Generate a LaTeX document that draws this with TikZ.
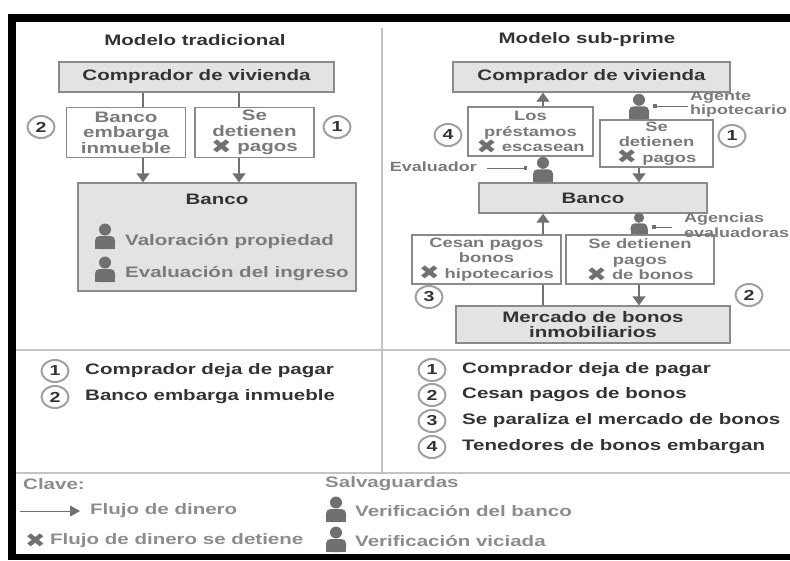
\documentclass[tikz,border=0pt]{standalone}
\usepackage{fontspec}
\usepackage{graphicx}
\setmainfont{Liberation Sans}[FakeStretch=1.35]
\newfontfamily\crossfont{DejaVu Sans}
\usetikzlibrary{arrows.meta,shapes.geometric}
\definecolor{boxfill}{HTML}{E3E3E3}
\definecolor{boxline}{HTML}{8A8A8A}
\definecolor{darktext}{HTML}{333333}
\definecolor{greytext}{HTML}{7A7A7A}
\definecolor{keytext}{HTML}{8C8C8C}
\definecolor{iconcol}{HTML}{707070}
\definecolor{rulecol}{HTML}{C4C4C4}
\definecolor{ringcol}{HTML}{A0A0A0}
\newcommand\diagfont{\fontsize{15.2}{15.5}\selectfont\bfseries}
\newcommand\boxfont{\fontsize{13.6}{15.5}\selectfont\bfseries}
\newcommand\sidefont{\fontsize{13.3}{14.5}\selectfont\bfseries}
\newcommand\numfont{\fontsize{14.5}{14.5}\selectfont\bfseries}
\newcommand\nox{\smash{\raisebox{-1.5pt}{\color{iconcol}\scalebox{1.75}[1.4]{\crossfont\fontsize{14}{14}\selectfont ✖}}}}

\begin{document}
\begin{tikzpicture}[
  x=1pt, y=-1pt,
  every node/.style={font=\diagfont, inner sep=0pt},
  greybox/.style={draw=boxline, fill=boxfill, line width=1.4pt, text=darktext},
  whitebox/.style={draw=boxline, fill=white, line width=1.4pt, text=greytext, align=center},
  smallbox/.style={whitebox, font=\boxfont},
  num/.style={ellipse, draw=ringcol, line width=2pt, fill=white, minimum width=27pt, minimum height=22pt, text=darktext, font=\numfont},
  flow/.style={draw=iconcol, line width=1.4pt},
  flowto/.style={flow, -{Triangle[width=13pt,length=9pt]}},
  tag/.style={draw=iconcol, line width=1pt, {Square[width=3.5pt,length=3.5pt]}-},
  person/.pic={
    \fill (0,-19.5) circle (6);
    \fill[rounded corners=4.5] (-10,0) -- (-10,-13) -- (10,-13) -- (10,0) -- cycle;
    \fill (-10,0) rectangle (10,-6);
  }
]
\useasboundingbox (0,0) rectangle (790,560);
\fill (8,14) rectangle (790,22);
\fill (8,14) rectangle (16,560);
\fill (8,554) rectangle (790,560);
\draw[rulecol, line width=1.5pt] (16,350) -- (790,350) (16,473) -- (790,473) (382,28) -- (382,473);

% modelo tradicional
\node[text=darktext] (ltitle) at (195,40) {Modelo tradicional};
\node[greybox, minimum width=275pt, minimum height=30pt] (lcomp) at (196.5,77) {Comprador de vivienda};
\node[whitebox, minimum width=119pt, minimum height=50pt] (lbox2) at (126,132.5) {Banco\\embarga\\inmueble};
\node[whitebox, minimum width=119pt, minimum height=50pt] (lbox1) at (254.5,132.5) {Se\\detienen\\\nox\ pagos};
\node[greybox, minimum width=278pt, minimum height=108pt] (lbank) at (217,237) {};
\node[text=darktext] (lbanktxt) at (217,199) {Banco};
\pic[iconcol] at (105,249) {person};
\node[text=greytext, anchor=west] (lval) at (125,241) {Valoración propiedad};
\pic[iconcol] at (105,282) {person};
\node[text=greytext, anchor=west] (leva) at (125,274) {Evaluación del ingreso};
\coordinate (la) at (143,0);
\coordinate (lb) at (239,0);
\draw[flow] (lcomp.south -| la) -- (lbox2.north -| la);
\draw[flowto] (lbox2.south -| la) -- (lbank.north -| la);
\draw[flow] (lcomp.south -| lb) -- (lbox1.north -| lb);
\draw[flowto] (lbox1.south -| lb) -- (lbank.north -| lb);
\node[num] (lc2) at (41,127) {2};
\node[num] (lc1) at (337,127) {1};

% modelo sub-prime
\node[text=darktext] (rtitle) at (587,40) {Modelo sub-prime};
\node[greybox, minimum width=277pt, minimum height=30pt] (rcomp) at (591.5,77) {Comprador de vivienda};
\node[smallbox, minimum width=125pt, minimum height=49pt] (rbox4) at (530.5,131.5) {Los\\préstamos\\\nox\ escasean};
\node[smallbox, minimum width=113pt, minimum height=47pt] (rbox1) at (656.5,143.5) {Se\\detienen\\\nox\ pagos};
\node[greybox, minimum width=228pt, minimum height=30pt] (rbank) at (593,198) {Banco};
\node[smallbox, minimum width=149pt, minimum height=49pt] (rbox3) at (486.5,259.5) {Cesan pagos\\bonos\\\nox\ hipotecarios};
\node[smallbox, minimum width=148pt, minimum height=49pt] (rbox2) at (640,259.5) {Se detienen\\pagos\\\nox\ de bonos};
\node[greybox, minimum width=274pt, minimum height=37pt, align=center] (rmerc) at (593,324.5) {Mercado de bonos\\inmobiliarios};
\coordinate (ra) at (543,0);
\coordinate (rb) at (639,0);
\draw[flowto] (rbox4.north -| ra) -- (rcomp.south -| ra);
\draw[flowto] (rbox1.south -| rb) -- (rbank.north -| rb);
\draw[flowto] (rbox3.north -| ra) -- (rbank.south -| ra);
\draw[flow] (rmerc.north -| ra) -- (rbox3.south -| ra);
\draw[flowto] (rbox2.south -| rb) -- (rmerc.north -| rb);
\pic[iconcol] at (rbox1.north -| rb) {person};
\pic[iconcol] at (rbank.north -| ra) {person};
\pic[iconcol, scale=0.85] at (rbox2.north -| rb) {person};
\node[text=greytext, anchor=west, align=left, font=\sidefont] (lagent) at (690,104.5) {Agente\\hipotecario};
\coordinate (agentdot) at (653,106);
\draw[tag, shorten >=2pt] (agentdot) -- (agentdot -| lagent.west);
\node[text=greytext, anchor=east, font=\sidefont] (leval) at (477,167) {Evaluador};
\coordinate (evaldot) at (527,168);
\draw[tag, shorten >=10pt] (evaldot) -- (evaldot -| leval.east);
\node[text=greytext, anchor=west, align=left, font=\sidefont] (lagency) at (684,225) {Agencias\\evaluadoras};
\coordinate (agencydot) at (652,227);
\draw[tag, shorten >=12pt] (agencydot) -- (agencydot -| lagency.west);
\node[num] (rc4) at (448,135) {4};
\node[num] (rc1) at (732,136) {1};
\node[num] (rc3) at (429,297) {3};
\node[num] (rc2) at (749,295) {2};

% pasos
\node[num] (lk1) at (55,371) {1};
\node[text=darktext, anchor=west] (lk1txt) at (85,371) {Comprador deja de pagar};
\node[num] (lk2) at (55,397) {2};
\node[text=darktext, anchor=west] (lk2txt) at (85,397) {Banco embarga inmueble};
\node[num] (rk1) at (432,370) {1};
\node[text=darktext, anchor=west] (rk1txt) at (462,370) {Comprador deja de pagar};
\node[num] (rk2) at (432,395) {2};
\node[text=darktext, anchor=west] (rk2txt) at (462,395) {Cesan pagos de bonos};
\node[num] (rk3) at (432,421) {3};
\node[text=darktext, anchor=west] (rk3txt) at (462,421) {Se paraliza el mercado de bonos};
\node[num] (rk4) at (432,447) {4};
\node[text=darktext, anchor=west] (rk4txt) at (462,447) {Tenedores de bonos embargan};

% clave
\node[text=keytext, anchor=west] (kclave) at (23,484) {Clave:};
\coordinate (kflow) at (20,511);
\node[text=keytext, anchor=west] (kflowtxt) at (90,511) {Flujo de dinero};
\draw[flow, line width=1pt, -{Triangle[width=11pt,length=10pt]}, shorten >=10pt] (kflow) -- (kflowtxt.west);
\node[anchor=west] (kstop) at (25,546) {\nox};
\node[text=keytext, anchor=west] (kstoptxt) at (50,541) {Flujo de dinero se detiene};
\node[text=keytext, anchor=west] (ksafe) at (325,484) {Salvaguardas};
\pic[iconcol] at (336,522) {person};
\node[text=keytext, anchor=west] (kbank) at (355,511) {Verificación del banco};
\pic[iconcol] at (336,552) {person};
\node[text=keytext, anchor=west] (kvice) at (355,541) {Verificación viciada};
\end{tikzpicture}
\end{document}
